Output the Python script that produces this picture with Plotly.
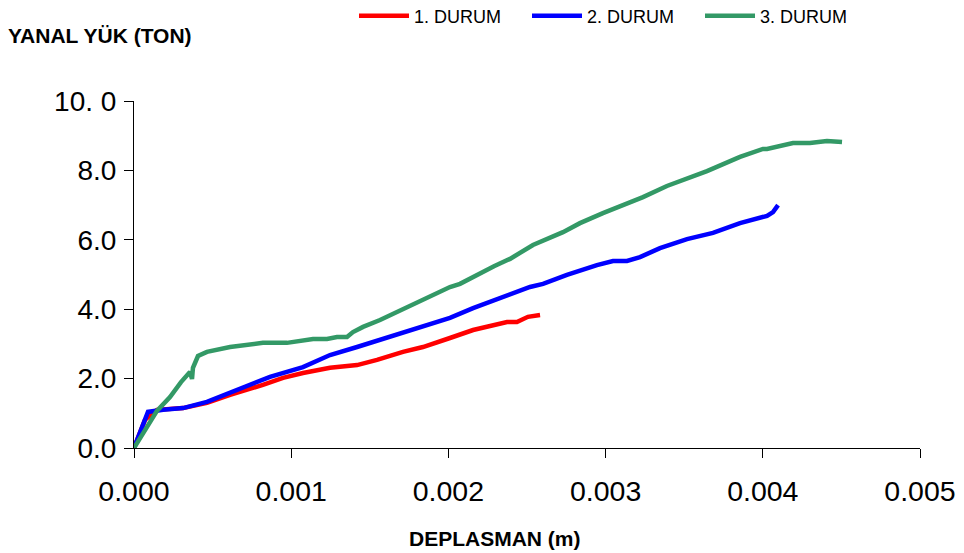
import plotly.graph_objects as go

# 1. DURUM
x1 = [0, 0.00007, 0.000146, 0.000312, 0.000464, 0.000611, 0.00082, 0.000948, 0.001075,
      0.001247, 0.001419, 0.001546, 0.001711, 0.001838, 0.00201, 0.002157, 0.002373,
      0.002436, 0.002506, 0.002583]
y1 = [0, 0.81, 1.10, 1.15, 1.30, 1.53, 1.82, 2.02, 2.16, 2.31, 2.39, 2.54, 2.77, 2.91,
      3.17, 3.40, 3.63, 3.63, 3.78, 3.83]

# 2. DURUM
x2 = [0, 0.000057, 0.000076, 0.000089, 0.000185, 0.000312, 0.000464, 0.000611, 0.000865,
      0.001075, 0.001247, 0.001419, 0.001501, 0.001673, 0.001838, 0.00201, 0.002157,
      0.002373, 0.002519, 0.002602, 0.002754, 0.002945, 0.003047, 0.003136, 0.003219,
      0.003346, 0.003518, 0.003683, 0.003855, 0.004027, 0.004065, 0.004097]
y2 = [0, 0.72, 0.95, 1.04, 1.10, 1.15, 1.33, 1.59, 2.05, 2.33, 2.68, 2.91, 3.03, 3.26,
      3.49, 3.75, 4.03, 4.41, 4.64, 4.73, 4.99, 5.27, 5.39, 5.39, 5.50, 5.76, 6.02, 6.20,
      6.48, 6.69, 6.80, 7.00]

# 3. DURUM
x3 = [0, 0.000102, 0.000146, 0.000229, 0.000299, 0.000356, 0.000369, 0.000375, 0.000407,
      0.000464, 0.000611, 0.00082, 0.000973, 0.001139, 0.001228, 0.001291, 0.001355,
      0.001393, 0.001457, 0.001565, 0.001673, 0.001756, 0.001838, 0.001927, 0.00201,
      0.002074, 0.002157, 0.00229, 0.002392, 0.002538, 0.002729, 0.002837, 0.002983,
      0.003092, 0.003238, 0.00339, 0.003645, 0.003855, 0.004001, 0.004027, 0.004192,
      0.0043, 0.004408, 0.004504]
y3 = [0, 0.72, 1.07, 1.47, 1.90, 2.19, 1.99, 2.31, 2.65, 2.77, 2.91, 3.03, 3.03, 3.14,
      3.14, 3.20, 3.20, 3.34, 3.49, 3.69, 3.92, 4.12, 4.29, 4.47, 4.64, 4.73, 4.93, 5.24,
      5.45, 5.85, 6.22, 6.48, 6.77, 6.97, 7.23, 7.55, 7.98, 8.39, 8.62, 8.62, 8.79, 8.79,
      8.85, 8.82]

names = ["1. DURUM", "2. DURUM", "3. DURUM"]
colors = ["#FF0000", "#0000FF", "#339966"]

x_tickvals = [0, 0.001, 0.002, 0.003, 0.004, 0.005]
x_ticktext = ["0.000", "0.001", "0.002", "0.003", "0.004", "0.005"]
y_tickvals = [0, 2, 4, 6, 8, 10]
y_ticktext = ["0.0", "2.0", "4.0", "6.0", "8.0", "10. 0"]

FONT = "Liberation Sans, Arial, sans-serif"

fig = go.Figure()
for xs, ys, n, c in zip([x1, x2, x3], [y1, y2, y3], names, colors):
    fig.add_trace(go.Scatter(x=xs, y=ys, mode="lines", name=n,
                             line=dict(color=c, width=4.5)))

fig.update_layout(
    width=964, height=553,
    margin=dict(l=134, r=44, t=101, b=105, autoexpand=False),
    paper_bgcolor="white", plot_bgcolor="white",
    font=dict(family=FONT, color="black"),
    showlegend=True,
    legend=dict(orientation="h", x=(354 - 134) / 786, xanchor="left",
                y=1 + (101 - 16) / 347, yanchor="middle",
                font=dict(size=18, family=FONT),
                entrywidth=108, entrywidthmode="pixels",
                bgcolor="rgba(0,0,0,0)", itemwidth=50),
    xaxis=dict(range=[0, 0.005], tickvals=x_tickvals, ticktext=x_ticktext,
               showgrid=False, zeroline=False, showline=True, linecolor="black",
               linewidth=1, ticks="outside", ticklen=9, tickcolor="black",
               tickfont=dict(size=28.5, family=FONT), ticklabelstandoff=9),
    yaxis=dict(range=[0, 10], tickvals=y_tickvals, ticktext=y_ticktext,
               showgrid=False, zeroline=False, showline=True, linecolor="black",
               linewidth=1, ticks="outside", ticklen=9, tickcolor="black",
               tickfont=dict(size=28, family=FONT), ticklabelstandoff=2),
    annotations=[
        dict(text="<b>YANAL YÜK (TON)</b>", xref="paper", yref="paper",
             x=-128/786, y=1 + 66/347, xanchor="left", yanchor="middle",
             showarrow=False, font=dict(size=21, family=FONT)),
        dict(text="<b>DEPLASMAN (m)</b>", xref="paper", yref="paper",
             x=(495 - 134)/786, y=-(538 - 448)/347, xanchor="center", yanchor="middle",
             showarrow=False, font=dict(size=21, family=FONT)),
    ],
)

fig.write_html("out.html")
